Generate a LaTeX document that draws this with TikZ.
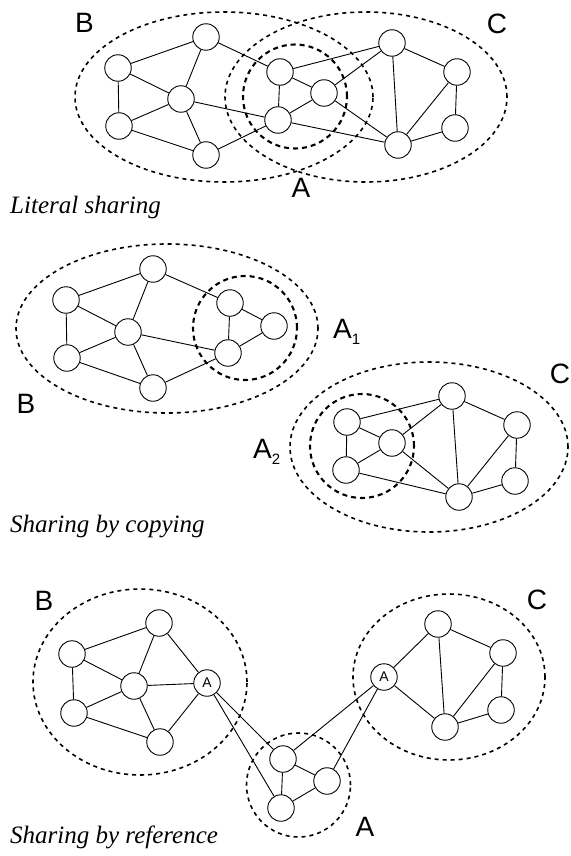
\documentclass[tikz,border=0pt]{standalone}
\usepackage{fontspec}
\setmainfont{Liberation Serif}
\setsansfont{Liberation Sans}
\begin{document}
\begin{tikzpicture}[x=1pt,y=-1pt,
  vert/.style={circle,draw,fill=white,line width=0.9pt,minimum size=26.5pt,inner sep=0pt,
    font=\sffamily\fontsize{14}{14}\selectfont},
  edge/.style={line width=0.9pt},
  outerset/.style={line width=1.6pt,dash pattern=on 4pt off 4pt},
  innerset/.style={line width=2.1pt,dash pattern=on 5pt off 4pt},
  biglabel/.style={font=\sffamily\fontsize{28}{28}\selectfont,inner sep=0pt},
  caption/.style={font=\itshape\fontsize{25}{25}\selectfont,inner sep=0pt,anchor=base west}]
\useasboundingbox (0,0) rectangle (570,856);

% ---------------- Literal sharing ----------------
\draw[outerset] (224,97) ellipse [x radius=149pt,y radius=85pt];
\draw[outerset] (366,97) ellipse [x radius=141pt,y radius=85pt];
\draw[innerset] (295,96.5) circle [radius=52pt];

\node[vert] (b1) at (206,37) {};
\node[vert] (b2) at (118,68) {};
\node[vert] (b3) at (181,99) {};
\node[vert] (b4) at (119,126) {};
\node[vert] (b5) at (206,155) {};
\node[vert] (a1) at (280,72) {};
\node[vert] (a2) at (324,93) {};
\node[vert] (a3) at (278,120) {};
\node[vert] (c1) at (392,43) {};
\node[vert] (c2) at (457,72) {};
\node[vert] (c3) at (455,128) {};
\node[vert] (c4) at (398,145) {};
\draw[edge] (b1)--(b2) (b1)--(b3) (b1)--(a1) (b2)--(b3) (b2)--(b4) (b3)--(b4)
  (b3)--(b5) (b3)--(a3) (b4)--(b5) (b5)--(a3)
  (a1)--(a3) (a1)--(a2) (a2)--(a3) (a1)--(c1) (a2)--(c1) (a2)--(c4) (a3)--(c4)
  (c1)--(c2) (c1)--(c4) (c2)--(c4) (c2)--(c3) (c3)--(c4);

\node[biglabel] (lB1) at (84.5,23) {B};
\node[biglabel] (lC1) at (497,24) {C};
\node[biglabel] (lA1) at (301,188) {A};
\node[caption] (cap1) at (10,213) {Literal sharing};

% ---------------- Sharing by copying ----------------
\draw[outerset] (167,328.5) ellipse [x radius=151pt,y radius=84.5pt];
\draw[innerset] (245,328) circle [radius=52pt];
\draw[outerset] (429,447) ellipse [x radius=139pt,y radius=85pt];
\draw[innerset] (362,446) circle [radius=52pt];

\node[vert] (n1) at (153,269) {};
\node[vert] (n2) at (66,300) {};
\node[vert] (n3) at (128,332) {};
\node[vert] (n4) at (67,358) {};
\node[vert] (n5) at (153,388) {};
\node[vert] (p1) at (230,303) {};
\node[vert] (p2) at (274,326) {};
\node[vert] (p3) at (228,353) {};
\draw[edge] (n1)--(n2) (n1)--(n3) (n1)--(p1) (n2)--(n3) (n2)--(n4) (n3)--(n4)
  (n3)--(n5) (n3)--(p3) (n4)--(n5) (n5)--(p3) (p1)--(p3) (p1)--(p2) (p2)--(p3);

\node[vert] (q1) at (347,422) {};
\node[vert] (q2) at (392,443) {};
\node[vert] (q3) at (346,470) {};
\node[vert] (r1) at (452,396) {};
\node[vert] (r2) at (517,425) {};
\node[vert] (r3) at (515,481) {};
\node[vert] (r4) at (459,497) {};
\draw[edge] (q1)--(q3) (q1)--(q2) (q2)--(q3) (q1)--(r1) (q2)--(r1) (q2)--(r4)
  (q3)--(r4) (r1)--(r2) (r1)--(r4) (r2)--(r4) (r2)--(r3) (r3)--(r4);

\node[biglabel] (lB2) at (26,404) {B};
\node[biglabel,anchor=base west] (lA21) at (333,338) {A\raisebox{-6pt}{\fontsize{15}{15}\selectfont 1}};
\node[biglabel,anchor=base west] (lA22) at (253,458) {A\raisebox{-6pt}{\fontsize{15}{15}\selectfont 2}};
\node[biglabel] (lC2) at (560,374) {C};
\node[caption] (cap2) at (10,532) {Sharing by copying};

% ---------------- Sharing by reference ----------------
\draw[outerset] (140,682) ellipse [x radius=107pt,y radius=93pt];
\draw[outerset] (298.5,785) circle [radius=52pt];
\draw[outerset] (449,677) ellipse [x radius=96pt,y radius=83pt];

\node[vert] (m1) at (159,623) {};
\node[vert] (m2) at (72,654) {};
\node[vert] (m3) at (134,686) {};
\node[vert] (m4) at (74,713) {};
\node[vert] (m5) at (160,742) {};
\node[vert] (ab) at (207,683) {A};
\node[vert] (s1) at (283,759) {};
\node[vert] (s2) at (327,781) {};
\node[vert] (s3) at (281,808) {};
\node[vert] (ac) at (384,677) {A};
\node[vert] (t1) at (438,624) {};
\node[vert] (t2) at (503,653) {};
\node[vert] (t3) at (501,710) {};
\node[vert] (t4) at (445,727) {};
\draw[edge] (m1)--(m2) (m1)--(m3) (m1)--(ab) (m2)--(m3) (m2)--(m4) (m3)--(m4)
  (m3)--(m5) (m3)--(ab) (m4)--(m5) (m5)--(ab)
  (ab)--(s1) (ab)--(s3) (s1)--(s2) (s1)--(s3) (s2)--(s3)
  (ac)--(s1) (ac)--(s2)
  (ac)--(t1) (ac)--(t4) (t1)--(t4) (t1)--(t2) (t2)--(t4) (t2)--(t3) (t3)--(t4);

\node[biglabel] (lB3) at (44,601) {B};
\node[biglabel] (lC3) at (537,600) {C};
\node[biglabel] (lA3) at (365,827) {A};
\node[caption] (cap3) at (10,843) {Sharing by reference};
\end{tikzpicture}
\end{document}
